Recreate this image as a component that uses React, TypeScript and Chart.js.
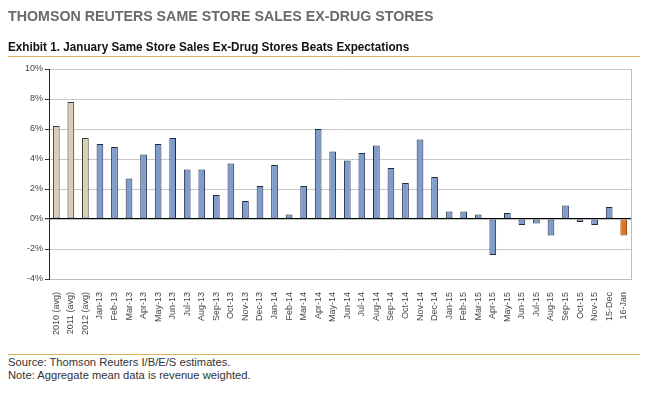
import React, { useEffect, useRef } from "react";
import { Chart, registerables } from "chart.js";

Chart.register(...registerables);

const categories = [
  "2010 (avg)", "2011 (avg)", "2012 (avg)",
  "Jan-13", "Feb-13", "Mar-13", "Apr-13", "May-13", "Jun-13", "Jul-13", "Aug-13", "Sep-13", "Oct-13", "Nov-13", "Dec-13",
  "Jan-14", "Feb-14", "Mar-14", "Apr-14", "May-14", "Jun-14", "Jul-14", "Aug-14", "Sep-14", "Oct-14", "Nov-14", "Dec-14",
  "Jan-15", "Feb-15", "Mar-15", "Apr-15", "May-15", "Jun-15", "Jul-15", "Aug-15", "Sep-15", "Oct-15", "Nov-15",
  "15-Dec", "16-Jan",
];

const values = [
  6.2, 7.8, 5.4,
  5.0, 4.8, 2.7, 4.3, 5.0, 5.4, 3.3, 3.3, 1.6, 3.7, 1.2, 2.2,
  3.6, 0.3, 2.2, 6.0, 4.5, 3.9, 4.4, 4.9, 3.4, 2.4, 5.3, 2.8,
  0.5, 0.5, 0.3, -2.4, 0.4, -0.4, -0.3, -1.1, 0.9, -0.2, -0.4,
  0.8, -1.1,
];

// "avg" = yearly average, "month" = monthly, "latest" = latest month
const barKinds = categories.map((c, i) =>
  c.includes("avg") ? "avg" : i === categories.length - 1 ? "latest" : "month"
);

const yMin = -4;
const yMax = 10;
const yStep = 2;

const fillByKind: Record<string, string> = { avg: "#d7d0b6", month: "#7f9dcb", latest: "#e2731f" };
const borderByKind: Record<string, string> = { avg: "#3b3a33", month: "#1e2b45", latest: "#8a3c05" };

const rightBorder = {
  id: "rightBorder",
  afterDraw(chart: any) {
    const { ctx, chartArea } = chart;
    ctx.save();
    ctx.strokeStyle = "#bdbdbd";
    ctx.lineWidth = 1;
    ctx.beginPath();
    ctx.moveTo(Math.round(chartArea.right) + 0.5, chartArea.top);
    ctx.lineTo(Math.round(chartArea.right) + 0.5, chartArea.bottom);
    ctx.stroke();
    ctx.restore();
  },
};

function BarChart() {
  const ref = useRef<HTMLCanvasElement | null>(null);
  useEffect(() => {
    if (!ref.current) return;
    const tickFont = { family: "'Liberation Sans', Arial, sans-serif", size: 9 };
    const chart = new Chart(ref.current, {
      type: "bar",
      data: {
        labels: categories,
        datasets: [
          {
            data: values,
            backgroundColor: barKinds.map((k) => fillByKind[k]),
            borderColor: barKinds.map((k) => borderByKind[k]),
            borderWidth: 1,
            borderSkipped: false,
            barPercentage: 0.46,
            categoryPercentage: 1.0,
          },
        ],
      },
      options: {
        responsive: false,
        animation: false,
        devicePixelRatio: 1,
        layout: { padding: { top: 69, right: 20, left: 0, bottom: 0 } },
        plugins: { legend: { display: false }, tooltip: { enabled: false } },
        scales: {
          x: {
            grid: { display: false },
            border: { display: true, color: "#bdbdbd" },
            ticks: {
              autoSkip: false,
              minRotation: 90,
              maxRotation: 90,
              font: tickFont,
              color: "#444",
              padding: 5,
            },
            afterFit: (s: any) => {
              s.height = 71;
            },
          },
          y: {
            min: yMin,
            max: yMax,
            ticks: {
              stepSize: yStep,
              callback: (v: any) => `${v}%`,
              font: tickFont,
              color: "#444",
              padding: 2,
            },
            grid: {
              color: (ctx: any) => (ctx.tick && ctx.tick.value === 0 ? "#000" : "#c8c8c8"),
              tickColor: "#333",
              tickLength: 4,
              lineWidth: (ctx: any) => (ctx.tick && ctx.tick.value === 0 ? 1.2 : 1),
            },
            border: { color: "#222" },
            afterFit: (s: any) => {
              s.width = 49;
            },
          },
        },
      },
      plugins: [rightBorder],
    });
    return () => chart.destroy();
  }, []);
  return <canvas ref={ref} width={651} height={350} style={{ width: 651, height: 350, display: "block" }} />;
}

export default function App() {
  return (
    <div style={{ position: "absolute", left: 0, top: 0, width: 651, height: 397, background: "#fff", overflow: "hidden" }}>
      <div style={{ position: "absolute", left: 0, top: 0 }}>
        <BarChart />
      </div>
      <div
        style={{
          position: "absolute", left: 8, top: 6.5, whiteSpace: "nowrap",
          fontFamily: "'Liberation Sans', Arial, sans-serif",
          fontSize: 15.5, fontWeight: "bold", color: "#6b6b6b", lineHeight: "18px",
          transform: "scaleX(0.918)", transformOrigin: "0 0",
        }}
      >
        THOMSON REUTERS SAME STORE SALES EX-DRUG STORES
      </div>
      <div
        style={{
          position: "absolute", left: 8, top: 40, whiteSpace: "nowrap",
          fontFamily: "'Liberation Sans', Arial, sans-serif",
          fontSize: 12, fontWeight: "bold", color: "#111", lineHeight: "15px",
          transform: "scaleX(0.975)", transformOrigin: "0 0",
        }}
      >
        Exhibit 1. January Same Store Sales Ex-Drug Stores Beats Expectations
      </div>
      <div style={{ position: "absolute", left: 8, top: 56, width: 632, height: 1, background: "#d6b35a" }} />
      <div style={{ position: "absolute", left: 8, top: 354, width: 632, height: 1, background: "#d6b35a" }} />
      <div
        style={{
          position: "absolute", left: 8, top: 355.5, whiteSpace: "nowrap",
          fontFamily: "'Liberation Sans', Arial, sans-serif", fontSize: 11.2, color: "#333", lineHeight: "13.7px",
        }}
      >
        <div>Source: Thomson Reuters I/B/E/S estimates.</div>
        <div>Note: Aggregate mean data is revenue weighted.</div>
      </div>
    </div>
  );
}
